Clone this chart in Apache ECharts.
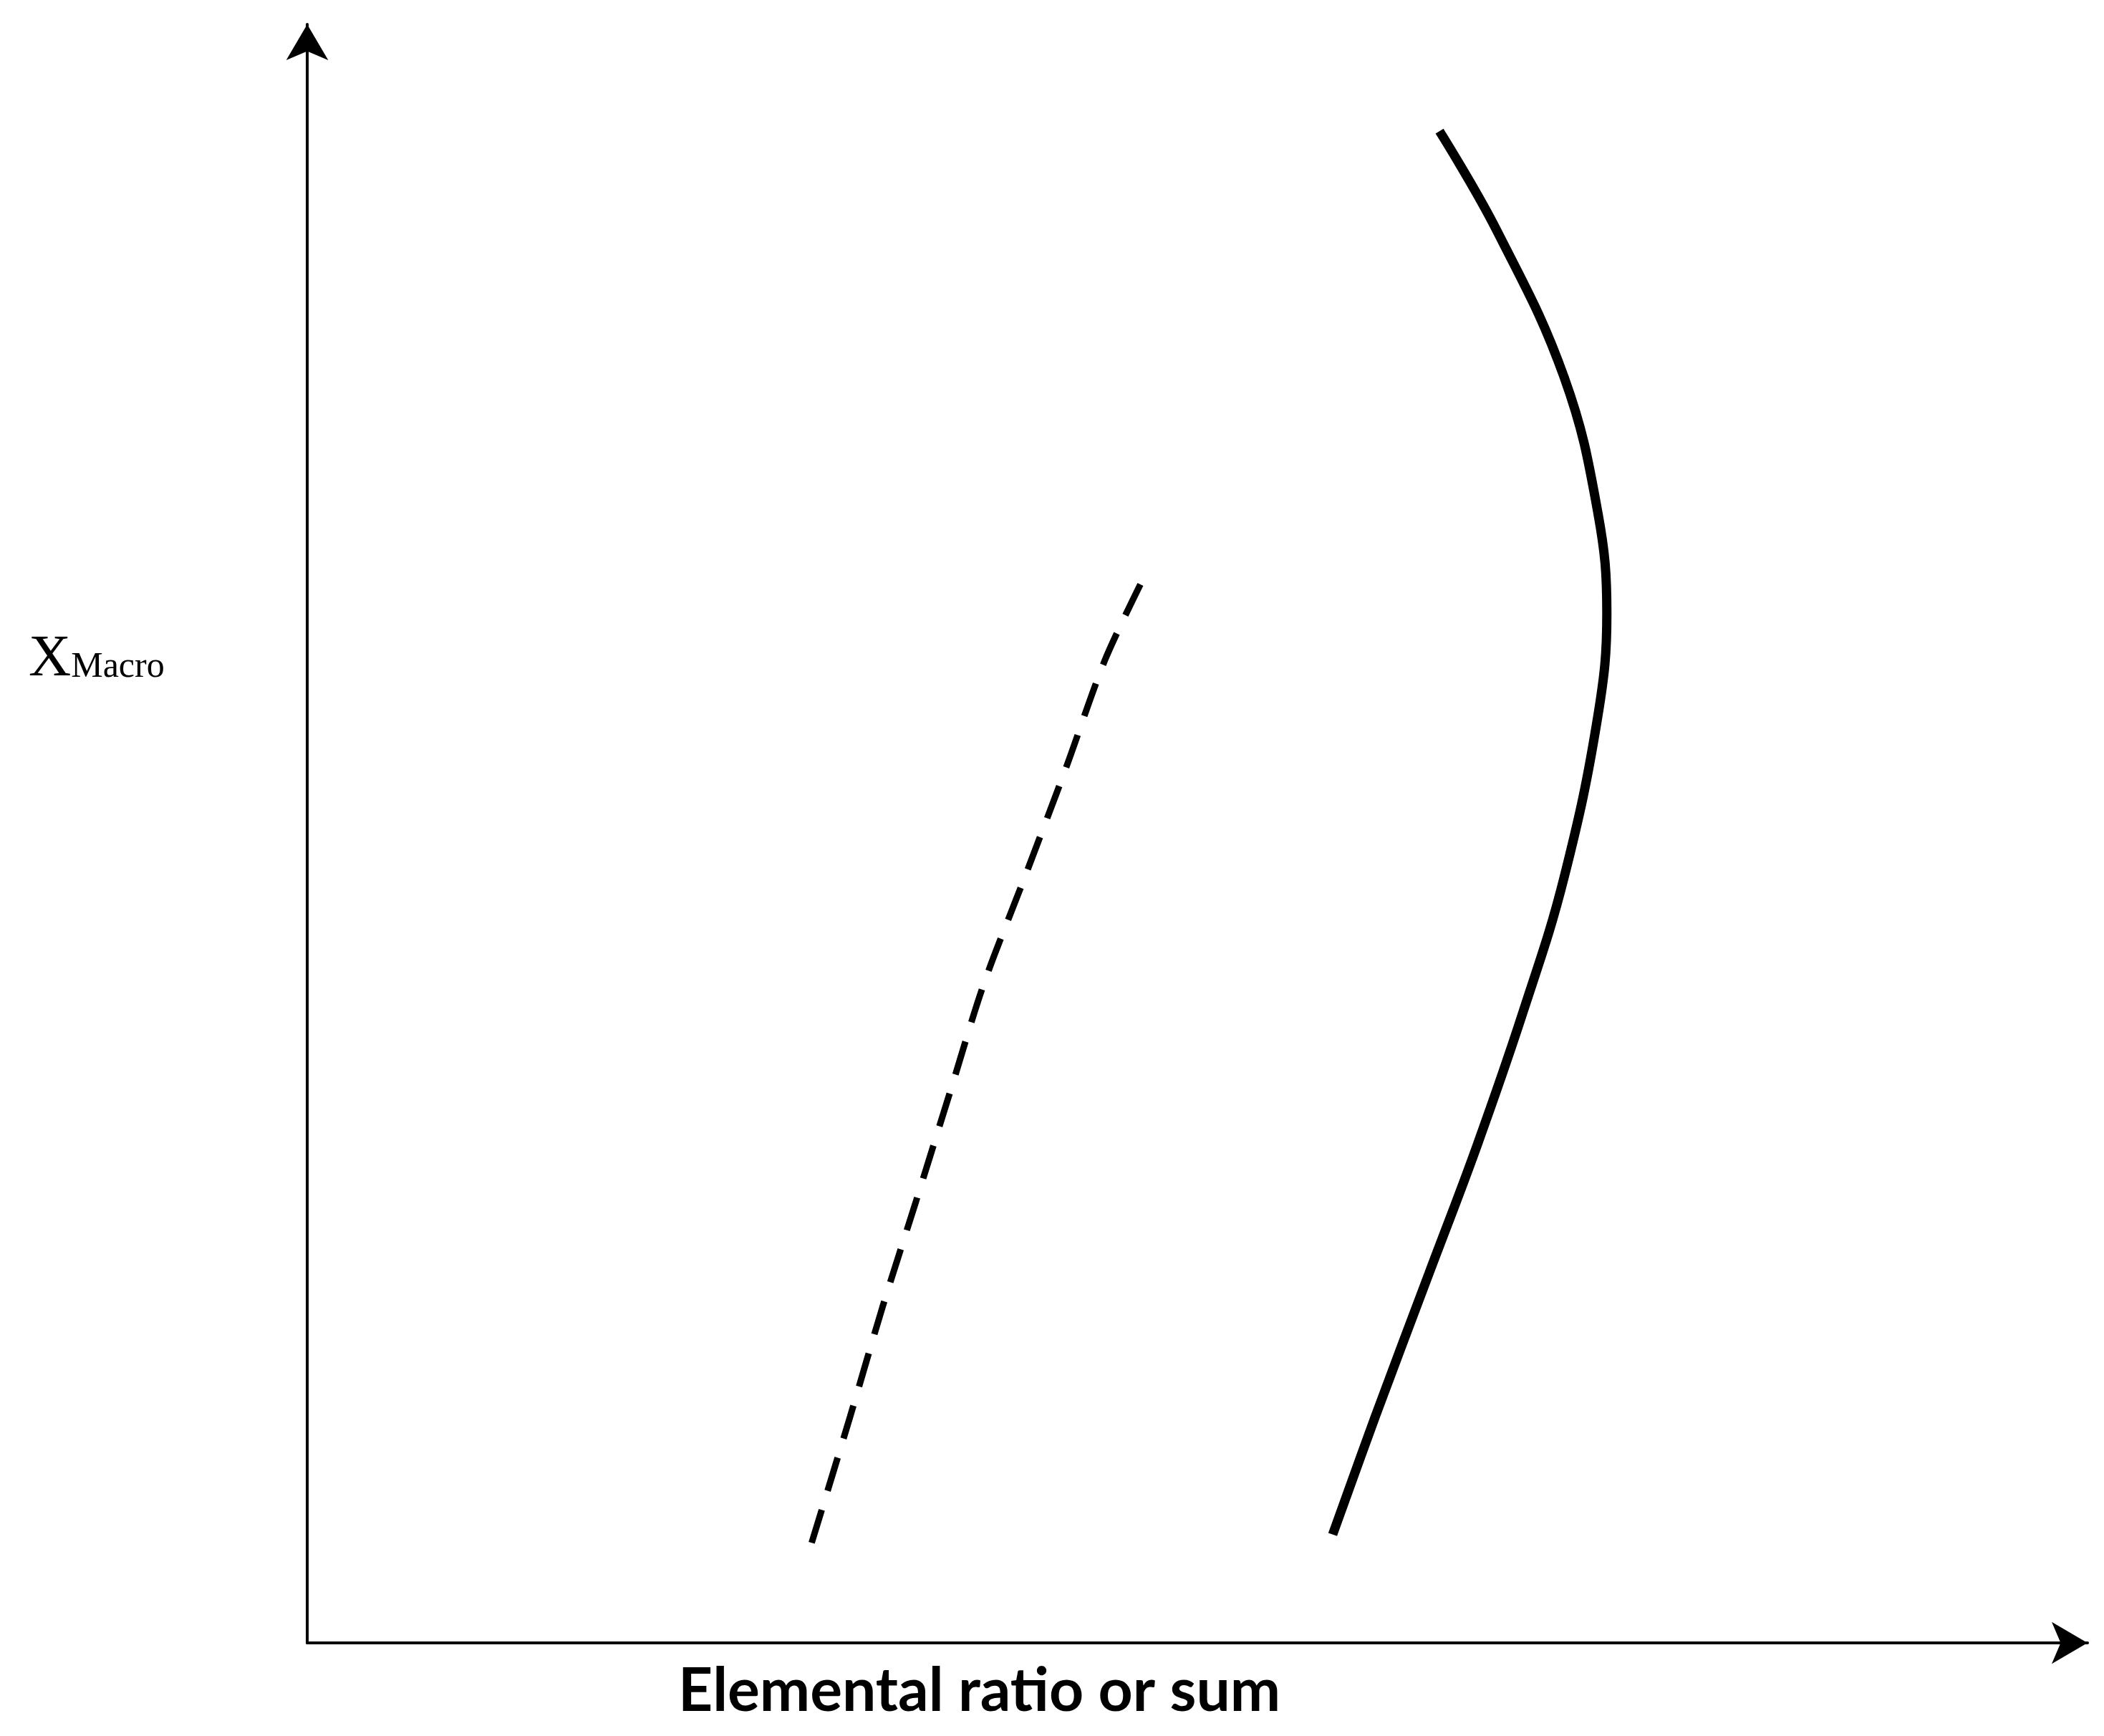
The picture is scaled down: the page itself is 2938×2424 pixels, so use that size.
<!DOCTYPE html>
<html>
<head>
<meta charset="utf-8">
<script src="https://cdn.jsdelivr.net/npm/echarts@6/dist/echarts.min.js"></script>
<style>
  html, body { margin: 0; padding: 0; background: #fff; }
  #chart { width: 2938px; height: 2424px; }
</style>
</head>
<body>
<div id="chart"></div>
<script>
// solid curve (x, y) in axis units 0-100
const solidX = [63.6, 66.8, 70.6, 72.5, 73.0, 72.5, 70.6, 68.3, 65.7, 63.0, 60.0, 57.6];
const solidY = [93.4, 87.3, 78.2, 69.8, 63.6, 57.3, 47.3, 39.0, 30.7, 22.8, 14.0, 6.7];
// dashed curve
const dashX = [46.8, 44.8, 42.6, 40.3, 38.0, 36.1, 34.2, 32.3, 30.5, 28.2];
const dashY = [65.4, 60.7, 54.0, 47.3, 40.7, 34.0, 27.3, 20.7, 14.0, 5.7];

const xLabel = 'Elemental ratio or sum';
const yLabelMain = 'X';
const yLabelSub = 'Macro';

const zip = (xs, ys) => xs.map((x, i) => [x, ys[i]]);

const chart = echarts.init(document.getElementById('chart'));
chart.setOption({
    backgroundColor: '#fff',
    animation: false,
    grid: { left: 429, right: 23, top: 34, bottom: 130 },
    xAxis: {
        type: 'value', min: 0, max: 100,
        axisLine: { lineStyle: { color: '#000', width: 4 }, symbol: ['none', 'arrow'], symbolSize: [44, 50], symbolOffset: [0, 0] },
        axisTick: { show: false }, axisLabel: { show: false }, splitLine: { show: false }
    },
    yAxis: {
        type: 'value', min: 0, max: 100,
        axisLine: { lineStyle: { color: '#000', width: 4 }, symbol: ['none', 'arrow'], symbolSize: [44, 50] },
        axisTick: { show: false }, axisLabel: { show: false }, splitLine: { show: false }
    },
    graphic: [
        {
            type: 'text', left: 40, top: 880,
            style: {
                text: '{a|' + yLabelMain + '}{b|' + yLabelSub + '}',
                rich: {
                    a: { fontFamily: 'Liberation Serif', fontSize: 82, fill: '#000' },
                    b: { fontFamily: 'Liberation Serif', fontSize: 50, fill: '#000', padding: [22, 0, 0, 0] }
                }
            }
        },
        {
            type: 'text', left: 947, top: 2320,
            style: { text: xLabel, fontFamily: 'Lato', fontWeight: 'bold', fontSize: 84, fill: '#000' }
        }
    ],
    series: [
        {
            type: 'line', data: zip(solidX, solidY), smooth: 0.4, showSymbol: false,
            lineStyle: { color: '#000', width: 13 }
        },
        {
            type: 'line', data: zip(dashX, dashY), smooth: 0.3, showSymbol: false,
            lineStyle: { color: '#000', width: 9, type: [48, 28] }
        }
    ]
});
</script>
</body>
</html>
